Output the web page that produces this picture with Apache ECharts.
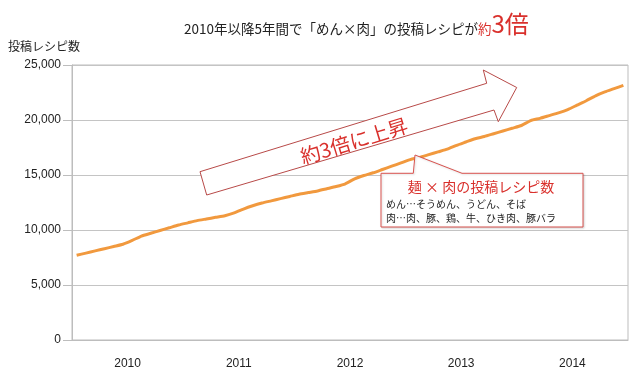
<!DOCTYPE html>
<html>
<head>
<meta charset="utf-8">
<script src="https://cdn.jsdelivr.net/npm/echarts@6/dist/echarts.min.js"></script>
<style>
html,body{margin:0;padding:0;background:#fff;}
#c{width:640px;height:372px;}
</style>
</head>
<body>
<div id="c"></div>
<script>
// ---- data ----
const years = ['2010', '2011', '2012', '2013', '2014'];
const months = [];
for (const y of years) { for (let m = 1; m <= 12; m++) months.push(y + '-' + (m < 10 ? '0' + m : m)); }
const recipeCounts = [
  7700, 7900, 8100, 8300, 8500, 8700, 9050, 9450, 9700, 9950, 10200, 10450,
  10650, 10850, 11000, 11150, 11300, 11550, 11900, 12200, 12450, 12650, 12850, 13050,
  13250, 13400, 13550, 13750, 13950, 14200, 14650, 14950, 15200, 15500, 15800, 16100,
  16400, 16600, 16850, 17100, 17350, 17700, 18000, 18300, 18500, 18750, 19000, 19250,
  19500, 19950, 20150, 20400, 20650, 20950, 21350, 21750, 22200, 22550, 22850, 23150
];
const yTicks = [0, 5000, 10000, 15000, 20000, 25000];

const FONT = '"Noto Sans CJK JP", "Liberation Sans", sans-serif';
const RED = '#d9302c';

const chart = echarts.init(document.getElementById('c'), null, { renderer: 'canvas' });
chart.setOption({
  backgroundColor: '#ffffff',
  animation: false,
  textStyle: { fontFamily: FONT },
  title: {
    left: 179, top: 3,
    text: '{a|2010年以降5年間で「めん×肉」の投稿レシピが}{b|約}{c|3倍}',
    textStyle: {
      fontWeight: 'normal',
      rich: {
        a: { fontSize: 13.5, color: '#222', fontFamily: FONT, fontWeight: 'normal', verticalAlign: 'bottom', lineHeight: 28 },
        b: { fontSize: 13.5, color: RED, fontFamily: FONT, fontWeight: 'normal', verticalAlign: 'bottom', lineHeight: 28 },
        c: { fontSize: 24, color: RED, fontFamily: FONT, fontWeight: 'normal', verticalAlign: 'bottom', lineHeight: 28 }
      }
    }
  },
  grid: {
    left: 72, right: 12, top: 65, bottom: 32,
    show: true, borderColor: '#bdbdbd', borderWidth: 1
  },
  xAxis: [
    {
      type: 'category', data: months, boundaryGap: true,
      axisLine: { show: true, lineStyle: { color: '#bdbdbd' } },
      axisTick: { show: false },
      axisLabel: { show: false },
      splitLine: { show: false }
    },
    {
      type: 'category', data: years, boundaryGap: true, position: 'bottom', offset: 0,
      axisLine: { show: false }, axisTick: { show: false },
      axisLabel: { color: '#222', fontSize: 12, margin: 18, fontFamily: '"Liberation Sans", Arial, sans-serif' },
      splitLine: { show: false }
    }
  ],
  yAxis: {
    type: 'value', min: yTicks[0], max: yTicks[yTicks.length - 1], interval: 5000,
    axisLine: { show: true, lineStyle: { color: '#bdbdbd' } },
    axisTick: { show: true, length: 9, lineStyle: { color: '#bdbdbd' } },
    axisLabel: {
      color: '#222', fontSize: 12, margin: 11,
      fontFamily: '"Liberation Sans", Arial, sans-serif',
      formatter: v => v.toLocaleString('en-US')
    },
    splitLine: { show: true, lineStyle: { color: '#c4c4c4', width: 1 } }
  },
  series: [{
    type: 'line', xAxisIndex: 0, data: recipeCounts,
    showSymbol: false, smooth: 0.2,
    lineStyle: { color: '#f1993e', width: 3 },
    itemStyle: { color: '#f1993e' },
    z: 3
  }],
  graphic: [
    { type: 'text', left: 8, top: 40, style: { text: '投稿レシピ数', font: '12px ' + FONT, fill: '#222' } },
    // big hollow arrow
    {
      type: 'polygon', z: 10,
      shape: { points: [[200, 171.7], [486.7, 83.3], [483.3, 70], [516.7, 87.5], [498.3, 121.7], [494, 110], [206.7, 195]] },
      style: { fill: '#ffffff', stroke: '#b84a48', lineWidth: 1 }
    },
    {
      type: 'text', z: 11, x: 354, y: 141, rotation: 17.1 * Math.PI / 180,
      style: { text: '約3倍に上昇', font: '20px ' + FONT, fill: RED, align: 'center', verticalAlign: 'middle' }
    },
    // callout box
    {
      type: 'polygon', z: 10,
      shape: { points: [[381, 173.3], [413.3, 173.3], [415, 155], [462, 173.3], [583, 173.3], [583, 227], [381, 227]] },
      style: { fill: '#ffffff', stroke: '#d9534f', lineWidth: 1, shadowBlur: 2, shadowColor: 'rgba(0,0,0,0.15)', shadowOffsetX: 1, shadowOffsetY: 1 }
    },
    {
      type: 'text', z: 11, x: 481, y: 187,
      style: { text: '麺 × 肉の投稿レシピ数', font: '14px ' + FONT, fill: RED, align: 'center', verticalAlign: 'middle' }
    },
    {
      type: 'text', z: 11, x: 386, y: 204,
      style: { text: 'めん…そうめん、うどん、そば', font: '10px ' + FONT, fill: '#222', align: 'left', verticalAlign: 'middle' }
    },
    {
      type: 'text', z: 11, x: 386, y: 218.5,
      style: { text: '肉…肉、豚、鶏、牛、ひき肉、豚バラ', font: '10px ' + FONT, fill: '#222', align: 'left', verticalAlign: 'middle' }
    }
  ]
});
</script>
</body>
</html>
